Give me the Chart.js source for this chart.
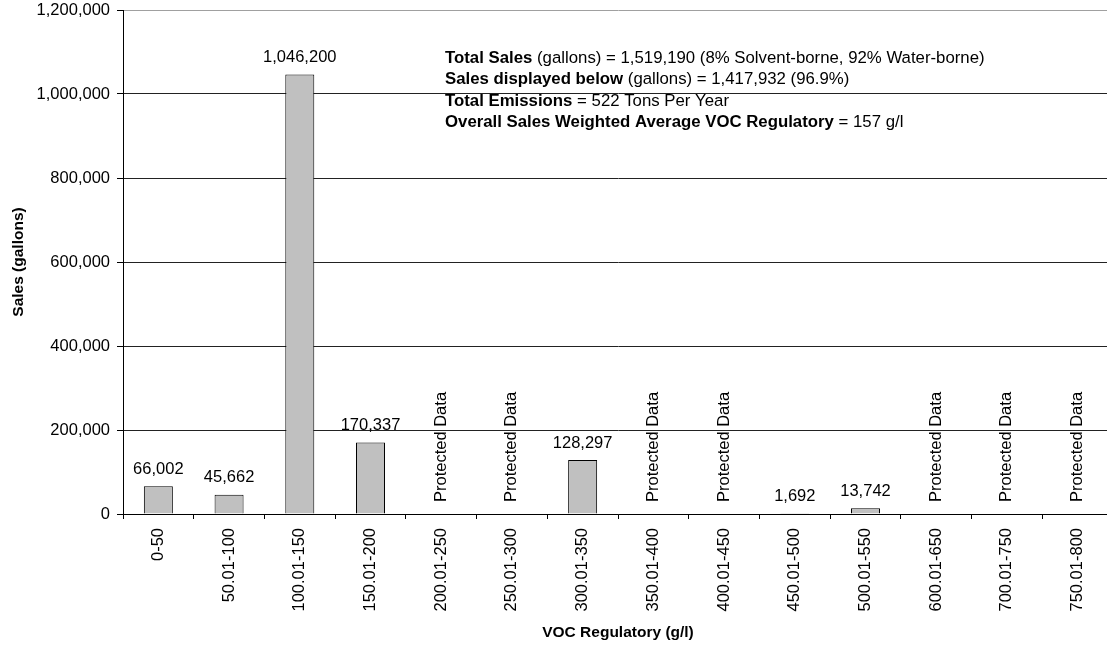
<!DOCTYPE html>
<html>
<head>
<meta charset="utf-8">
<title>VOC Regulatory sales</title>
<script src="https://cdn.jsdelivr.net/npm/chart.js@4.4.1/dist/chart.umd.min.js"></script>
<style>
    html, body { margin: 0; padding: 0; background: #fff; overflow: hidden; }
    #chart-sales { display: block; }
</style>
</head>
<body>
<canvas id="chart-sales" width="1116" height="646"></canvas>
<script>
const FONT = "'Liberation Sans', Arial, sans-serif";

// VOC ranges (g/l) and gallons sold; null = protected data
const categories = [
    "0-50", "50.01-100", "100.01-150", "150.01-200", "200.01-250", "250.01-300", "300.01-350",
    "350.01-400", "400.01-450", "450.01-500", "500.01-550", "600.01-650", "700.01-750", "750.01-800"
];
const sales = [66002, 45662, 1046200, 170337, null, null, 128297, null, null, 1692, 13742, null, null, null];
const protectedText = "Protected Data";

const yMin = 0;
const yMax = 1200000;
const yStep = 200000;

// summary block: each line is a list of [text, bold] runs
const summaryLines = [
    [["Total Sales", true], [" (gallons) = 1,519,190 (8% Solvent-borne, 92% Water-borne)", false]],
    [["Sales displayed below", true], [" (gallons) = 1,417,932 (96.9%)", false]],
    [["Total Emissions", true], [" = 522 Tons Per Year", false]],
    [["Overall Sales Weighted Average VOC Regulatory", true], [" = 157 g/l", false]]
];

const fmt = v => v.toLocaleString("en-US");

// value labels above bars, rotated note where data is withheld
const barLabels = {
    id: "barLabels",
    afterDatasetsDraw(chart) {
        const ctx = chart.ctx;
        const meta = chart.getDatasetMeta(0);
        const zeroY = chart.scales.y.getPixelForValue(0);
        ctx.save();
        ctx.fillStyle = "#000";
        ctx.font = `16.5px ${FONT}`;
        meta.data.forEach((bar, i) => {
            const v = sales[i];
            const x = chart.scales.x.getPixelForValue(i);
            if (v === null) {
                ctx.save();
                ctx.translate(x, zeroY - 12);
                ctx.rotate(-Math.PI / 2);
                ctx.textAlign = "left";
                ctx.textBaseline = "middle";
                ctx.fillText(protectedText, 0, 0);
                ctx.restore();
            } else {
                ctx.textAlign = "center";
                ctx.textBaseline = "middle";
                ctx.fillText(fmt(v), x, bar.y - 17);
            }
        });
        ctx.restore();
    }
};

const summaryBlock = {
    id: "summaryBlock",
    afterDraw(chart) {
        const ctx = chart.ctx;
        ctx.save();
        ctx.fillStyle = "#000";
        ctx.textBaseline = "middle";
        ctx.textAlign = "left";
        summaryLines.forEach((runs, i) => {
            let x = 445;
            const y = 58.5 + i * 21.3;
            runs.forEach(([text, bold]) => {
                ctx.font = `${bold ? "bold " : ""}16.8px ${FONT}`;
                ctx.fillText(text, x, y);
                x += ctx.measureText(text).width;
            });
        });
        ctx.restore();
    }
};

new Chart(document.getElementById("chart-sales").getContext("2d"), {
    type: "bar",
    data: {
        labels: categories,
        datasets: [{
            data: sales,
            backgroundColor: "#c0c0c0",
            borderColor: "#000",
            borderWidth: 1,
            barPercentage: 0.41,
            categoryPercentage: 1
        }]
    },
    options: {
        responsive: false,
        animation: false,
        layout: { padding: { top: 10, right: 3, left: 0, bottom: 0 } },
        plugins: {
            legend: { display: false },
            tooltip: { enabled: false }
        },
        scales: {
            x: {
                afterFit: s => { s.height = 132; s.paddingLeft = 0; s.paddingRight = 0; },
                grid: {
                    offset: true,
                    drawOnChartArea: false,
                    tickLength: 5,
                    tickColor: "#000"
                },
                border: { color: "#000", width: 1 },
                ticks: {
                    autoSkip: false,
                    minRotation: 90,
                    maxRotation: 90,
                    padding: 9,
                    color: "#000",
                    font: { family: FONT, size: 16.5 }
                },
                title: {
                    display: true,
                    text: "VOC Regulatory (g/l)",
                    color: "#000",
                    font: { family: FONT, size: 15.5, weight: "bold" },
                    padding: { top: 0, bottom: 4 }
                }
            },
            y: {
                min: yMin,
                max: yMax,
                afterFit: s => { s.width = 123; s.paddingTop = 0; s.paddingBottom = 0; },
                grid: {
                    color: ctx => ctx.tick && ctx.tick.value === yMax ? "#a0a0a0" : "#222",
                    tickColor: "#000",
                    tickLength: 6
                },
                border: { color: "#000", width: 1 },
                ticks: {
                    stepSize: yStep,
                    padding: 7,
                    color: "#000",
                    font: { family: FONT, size: 16.5 },
                    callback: v => fmt(v)
                },
                title: {
                    display: true,
                    text: "Sales (gallons)",
                    color: "#000",
                    font: { family: FONT, size: 15.5, weight: "bold" },
                    padding: { top: 9, bottom: 0 }
                }
            }
        }
    },
    plugins: [barLabels, summaryBlock]
});
</script>
</body>
</html>
